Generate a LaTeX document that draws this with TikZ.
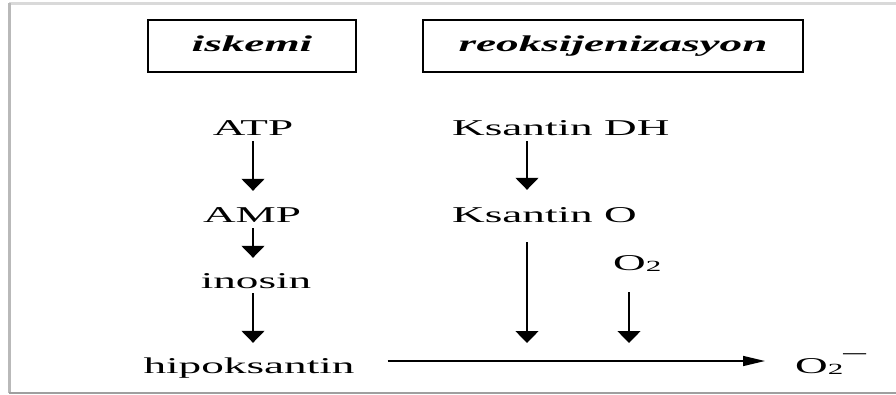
\documentclass[tikz,border=0pt]{standalone}
\usepackage{fontspec}
\setmainfont{Liberation Serif}[FakeStretch=2.0]
\usetikzlibrary{arrows.meta,calc}

\begin{document}
\begin{tikzpicture}[x=1pt,y=-1pt,
  lbl/.style={inner sep=0pt, text height=15pt, text depth=5pt,
    font=\fontsize{22.6}{26}\selectfont},
  hdrbox/.style={draw, line width=2.2pt, inner sep=0pt, minimum height=52pt,
    text height=15pt, text depth=5pt,
    font=\fontsize{22.6}{26}\selectfont\bfseries\itshape},
  varrow/.style={line width=1.5pt, -{Triangle[length=12pt,width=23pt]}},
  harrow/.style={line width=1.5pt, -{Triangle[length=22pt,width=10pt]}}
]
\useasboundingbox (0,0) rectangle (896,394);

% page frame
\draw[gray!30, line width=3pt] (9,3.5) -- (896,3.5);
\draw[gray!55, line width=3pt] (9.5,3) -- (9.5,393);
\draw[gray!75, line width=2pt] (9,393) -- (896,393);

% column headings
\node[hdrbox, minimum width=208pt] (isk) at (252,46) {iskemi};
\node[hdrbox, minimum width=380pt] (reo) at (613,46) {reoksijenizasyon\hspace{12pt}};

% left column
\node[lbl, anchor=base] (atp) at (253,135) {ATP};
\node[lbl, anchor=base] (amp) at (252,222) {AMP};
\node[lbl, anchor=base] (ino) at (256,288) {inosin};
\node[lbl, anchor=base] (hip) at (249,373) {hipoksantin};

% right column
\node[lbl, anchor=base west] (ksdh) at (452,135) {Ksantin DH};
\node[lbl, anchor=base west] (kso) at (452,222) {Ksantin O};
\node[lbl, anchor=base west] (oxy) at (613,270) {O{\fontsize{15.5}{16}\selectfont\raisebox{-1pt}{2}}};
\node[lbl, anchor=base west] (sup) at (795,373) {O{\fontsize{15.5}{16}\selectfont\raisebox{-1pt}{2}}\raisebox{14pt}{–}};

% arrow columns
\coordinate (lx) at (253,0);
\coordinate (kx) at (527,0);
\coordinate (ox) at (629,0);

% ischaemia chain
\draw[varrow] ($(atp.south -| lx)+(0,1)$) -- ($(amp.north -| lx)+(0,-16)$);
\draw[varrow] ($(amp.south -| lx)+(0,1)$) -- ($(ino.north -| lx)+(0,-15)$);
\draw[varrow] (ino.south -| lx) -- ($(hip.north -| lx)+(0,-15)$);

% reoxygenation chain
\draw[varrow] ($(ksdh.south -| kx)+(0,1)$) -- ($(kso.north -| kx)+(0,-17)$);

% main reaction line
\coordinate (mainL) at ($(hip.base east)+(33,-12)$);
\coordinate (mainR) at ($(sup.base west)+(-30,-12)$);
\draw[harrow] (mainL) -- (mainR);

\draw[varrow] ($(kso.south -| kx)+(0,15)$) -- ($(mainL -| kx)+(0,-18)$);
\draw[varrow] ($(oxy.south -| ox)+(0,17)$) -- ($(mainL -| ox)+(0,-18)$);
\end{tikzpicture}
\end{document}
